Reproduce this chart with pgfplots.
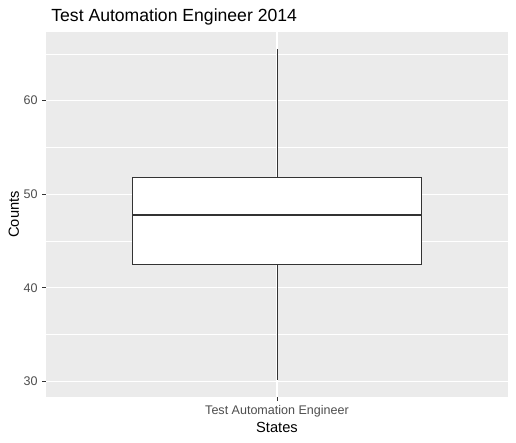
\documentclass[border=0pt]{standalone}
\usepackage{fontspec}
\setmainfont{Liberation Sans}
\usepackage{pgfplots}
\pgfplotsset{compat=1.18}
\definecolor{panel}{HTML}{EBEBEB}
\definecolor{tickl}{HTML}{4D4D4D}
\definecolor{boxc}{HTML}{333333}
\begin{document}
\begin{tikzpicture}
\useasboundingbox (-34.5pt,-33.75pt) rectangle (352.5pt,297.75pt);
\begin{axis}[
  at={(0pt,0pt)}, anchor=south west,
  scale only axis,
  width=346.5pt, height=273.75pt,
  xmin=0.4, xmax=1.6, ymin=28.32, ymax=67.33,
  axis background/.style={fill=panel},
  axis line style={draw=none},
  grid=both,
  major grid style={white, line width=0.8pt},
  minor grid style={white, line width=0.4pt},
  xtick={1}, xticklabels={Test Automation Engineer},
  ytick={30,40,50,60}, minor ytick={35,45,55,65},
  xtick pos=bottom, ytick pos=left,
  tick align=outside,
  major tick length=2.75pt, minor tick length=0pt,
  tick style={boxc, line width=0.6pt},
  /pgf/number format/assume math mode=true,
  ticklabel style={font=\fontsize{9.4}{11}\selectfont, text=tickl},
  clip=false,
]
% whiskers: lower 30.15, upper 65.5
\addplot[draw=boxc, line width=0.6pt] coordinates {(1,30.15) (1,42.5)};
\addplot[draw=boxc, line width=0.6pt] coordinates {(1,51.8) (1,65.5)};
% box: Q1 42.5, Q3 51.8
\addplot[draw=boxc, fill=white, line width=0.6pt] coordinates {(0.625,42.5) (1.375,42.5) (1.375,51.8) (0.625,51.8)} -- cycle;
% median 47.8
\addplot[draw=boxc, line width=1.4pt] coordinates {(0.625,47.8) (1.375,47.8)};
\node[anchor=base west, font=\fontsize{13.2}{15}\selectfont] at ([xshift=0.5pt,yshift=7.5pt]rel axis cs:0,1) {Test Automation Engineer 2014};
\node[anchor=base, font=\fontsize{11}{13}\selectfont] at ([yshift=-26.5pt]rel axis cs:0.5,0) {States};
\node[anchor=base, rotate=90, font=\fontsize{11}{13}\selectfont] at ([xshift=-20.25pt]rel axis cs:0,0.5) {Counts};
\end{axis}
\end{tikzpicture}
\end{document}
